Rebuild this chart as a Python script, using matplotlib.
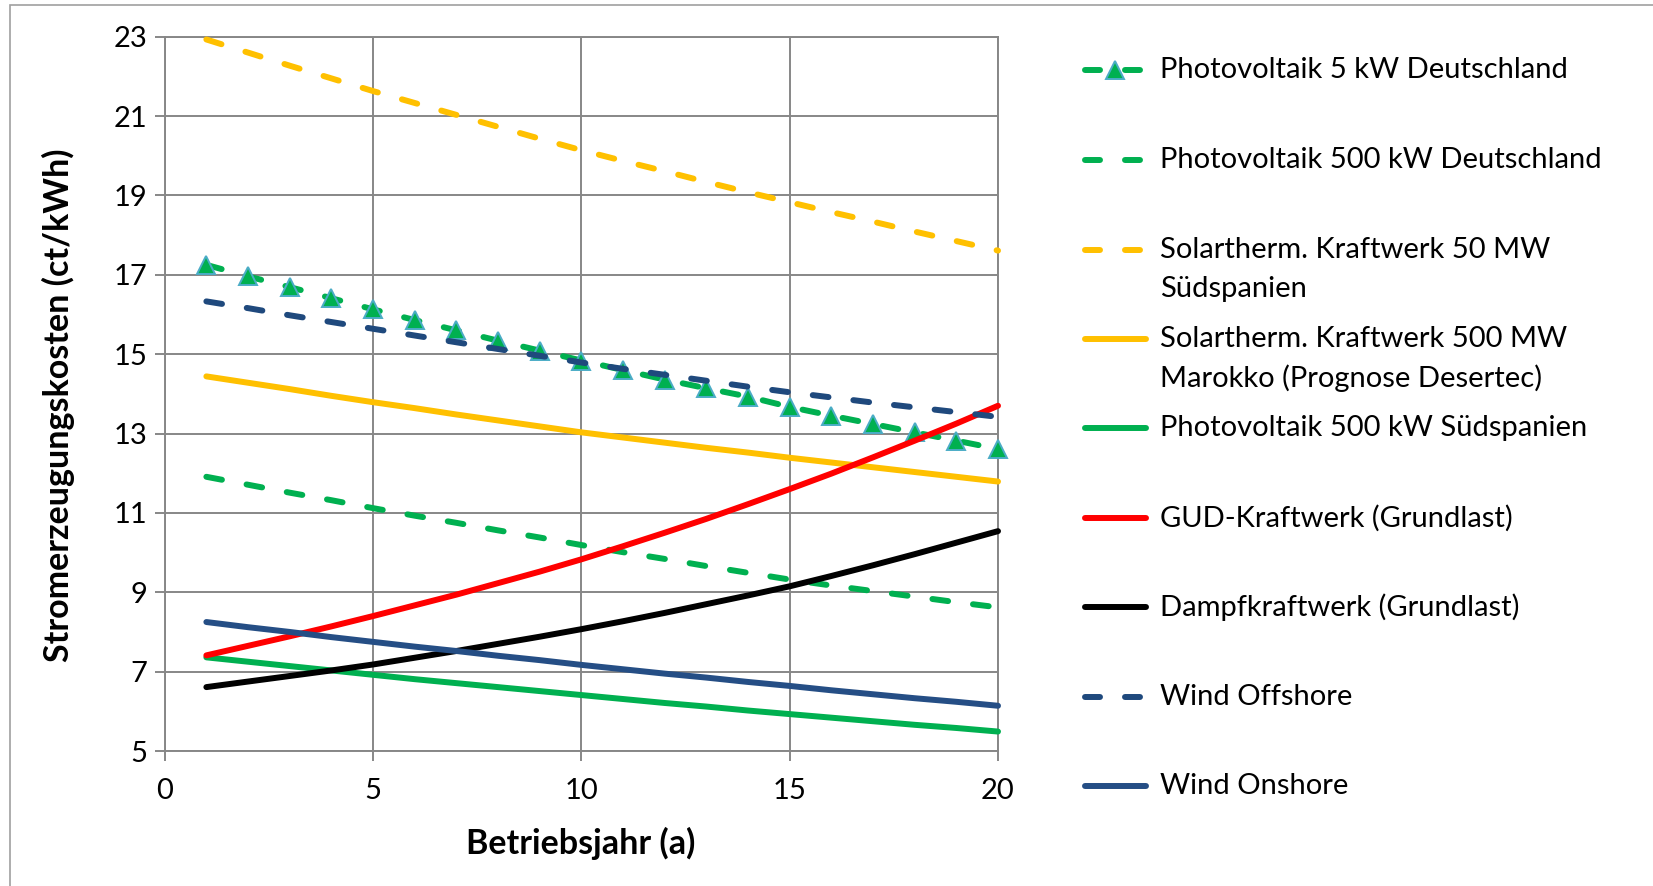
import matplotlib
matplotlib.use("Agg")
import matplotlib.pyplot as plt
from matplotlib.lines import Line2D
from matplotlib.patches import Rectangle

# ---------------- data ----------------
years = list(range(1, 21))

pv5_de = [17.25, 16.96, 16.69, 16.41, 16.13, 15.86, 15.60, 15.34, 15.09, 14.84,
          14.60, 14.36, 14.14, 13.93, 13.67, 13.45, 13.24, 13.03, 12.82, 12.61]
pv500_de = [11.91, 11.71, 11.51, 11.32, 11.12, 10.93, 10.75, 10.56, 10.38, 10.19,
            10.01, 9.84, 9.66, 9.49, 9.32, 9.17, 9.03, 8.89, 8.75, 8.62]
st50_es = [22.93, 22.60, 22.27, 21.95, 21.63, 21.33, 21.03, 20.73, 20.43, 20.14,
           19.87, 19.61, 19.34, 19.08, 18.83, 18.58, 18.34, 18.09, 17.85, 17.61]
st500_ma = [14.44, 14.28, 14.12, 13.95, 13.79, 13.64, 13.48, 13.33, 13.18, 13.03,
            12.90, 12.77, 12.64, 12.52, 12.39, 12.27, 12.15, 12.03, 11.91, 11.79]
pv500_es = [7.36, 7.25, 7.14, 7.03, 6.92, 6.81, 6.71, 6.61, 6.51, 6.41,
            6.31, 6.21, 6.12, 6.02, 5.93, 5.84, 5.75, 5.66, 5.58, 5.49]
gud = [7.41, 7.65, 7.89, 8.14, 8.40, 8.67, 8.94, 9.23, 9.52, 9.83,
       10.16, 10.50, 10.85, 11.22, 11.60, 11.99, 12.40, 12.82, 13.25, 13.70]
dampf = [6.61, 6.75, 6.89, 7.03, 7.18, 7.35, 7.52, 7.70, 7.88, 8.07,
         8.27, 8.48, 8.70, 8.92, 9.15, 9.41, 9.68, 9.96, 10.25, 10.54]
wind_off = [16.33, 16.16, 15.98, 15.81, 15.64, 15.47, 15.30, 15.13, 14.96, 14.79,
            14.63, 14.48, 14.33, 14.18, 14.04, 13.91, 13.78, 13.66, 13.54, 13.42]
wind_on = [8.25, 8.12, 8.00, 7.87, 7.75, 7.63, 7.52, 7.40, 7.29, 7.17,
           7.06, 6.95, 6.85, 6.74, 6.64, 6.53, 6.43, 6.33, 6.24, 6.14]

labels = ["Photovoltaik 5 kW Deutschland",
          "Photovoltaik 500 kW Deutschland",
          "Solartherm. Kraftwerk 50 MW\nSüdspanien",
          "Solartherm. Kraftwerk 500 MW\nMarokko (Prognose Desertec)",
          "Photovoltaik 500 kW Südspanien",
          "GUD-Kraftwerk (Grundlast)",
          "Dampfkraftwerk (Grundlast)",
          "Wind Offshore",
          "Wind Onshore"]

x_ticks = [0, 5, 10, 15, 20]
y_ticks = [5, 7, 9, 11, 13, 15, 17, 19, 21, 23]
x_label = "Betriebsjahr (a)"
y_label = "Stromerzeugungskosten (ct/kWh)"

# ---------------- styles ----------------
GREEN = "#00B050"
YELLOW = "#FFC000"
RED = "#FF0000"
BLACK = "#000000"
DBLUE = "#1F497D"
BLUE = "#254E85"
GRID = "#878787"
LW = 4.3
DASH = (2.65, 4.2)
FS = 21
FS_LAB = 24.5

series = [
    (pv5_de, GREEN, True, True),
    (pv500_de, GREEN, True, False),
    (st50_es, YELLOW, True, False),
    (st500_ma, YELLOW, False, False),
    (pv500_es, GREEN, False, False),
    (gud, RED, False, False),
    (dampf, BLACK, False, False),
    (wind_off, DBLUE, True, False),
    (wind_on, BLUE, False, False),
]

FONT = ["Lato", "DejaVu Sans"]
plt.rcParams['font.family'] = FONT

W, H = 1653, 886
fig = plt.figure(figsize=(W / 100, H / 100), dpi=100)

def px(x, y):
    return x / W, 1 - y / H

x0, x1 = 164.7, 998.0
y0, y1 = 36.7, 751.0
ax = fig.add_axes([x0 / W, 1 - y1 / H, (x1 - x0) / W, (y1 - y0) / H])

MK = dict(marker='^', markersize=12.5, markerfacecolor=GREEN,
          markeredgecolor="#4BACC6", markeredgewidth=1.4)

for i, (vals, col, dashed, marker) in enumerate(series):
    kw = dict(color=col, lw=LW, solid_capstyle='round', dash_capstyle='round',
              zorder=3 + i * 0.1)
    if dashed:
        kw['dashes'] = DASH
    if marker:
        kw.update(MK)
    ax.plot(years, vals, clip_on=False, **kw)

ax.set_xlim(0, 20)
ax.set_ylim(5, 23)
ax.set_xticks(x_ticks)
ax.set_yticks(y_ticks)
ax.grid(True, color=GRID, lw=1.4, zorder=0)
ax.set_axisbelow(True)
for s in ax.spines.values():
    s.set_color(GRID)
    s.set_linewidth(1.4)
ax.tick_params(axis='both', direction='out', length=7.5, width=1.4, color=GRID,
               labelsize=FS, labelcolor='black')
ax.tick_params(axis='y', pad=5)
ax.tick_params(axis='x', pad=12)

fig.text(*px(581, 843), x_label, ha='center', va='center', fontsize=FS_LAB,
         fontweight='bold')
fig.text(*px(58, 405), y_label, ha='center', va='center', fontsize=FS_LAB,
         fontweight='bold', rotation=90)

# ---------------- manual legend ----------------
leg_y = [70, 160, 250, 339, 428, 518, 607, 697, 786]
hx0, hx1 = 1085, 1146
for (vals, col, dashed, marker), lab, yy in zip(series, labels, leg_y):
    if dashed:
        for a, b in [(1085, 1100), (1125, 1140)]:
            fig.add_artist(Line2D([a / W, b / W], [1 - yy / H] * 2, color=col,
                                  lw=LW, solid_capstyle='round',
                                  transform=fig.transFigure))
    else:
        fig.add_artist(Line2D([hx0 / W, hx1 / W], [1 - yy / H] * 2, color=col,
                              lw=LW, solid_capstyle='round',
                              transform=fig.transFigure))
    if marker:
        fig.add_artist(Line2D([1115 / W], [1 - yy / H], linestyle='none',
                              transform=fig.transFigure, **MK))
    for j, ln in enumerate(lab.split("\n")):
        fig.text(*px(1160, yy + j * 39), ln, ha='left', va='center',
                 fontsize=FS)

# outer chart border
fig.add_artist(Rectangle(px(10, 900), (1660 - 10) / W, (900 - 5) / H,
                         transform=fig.transFigure, fill=False,
                         edgecolor="#A0A0A0", lw=1.2))

fig.savefig("out.png", dpi=100)
